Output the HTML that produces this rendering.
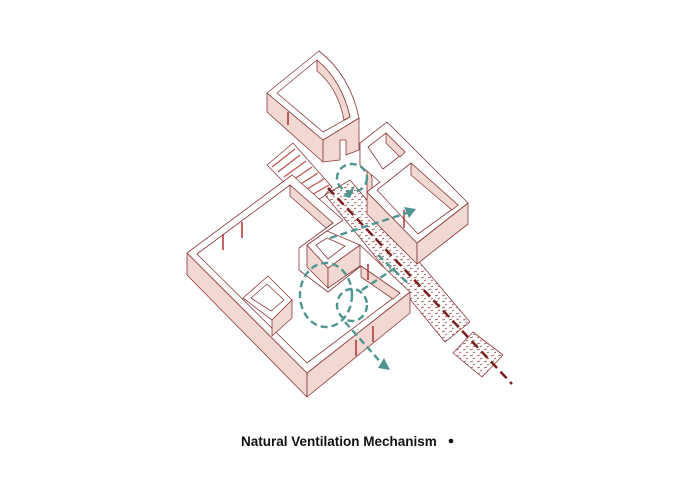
<!DOCTYPE html>
<html><head><meta charset="utf-8"><style>
html,body{margin:0;padding:0;background:#fff;}
svg{display:block}
</style></head><body>
<svg width="700" height="500" viewBox="0 0 700 500" xmlns="http://www.w3.org/2000/svg">
<defs>
<pattern id="hat" width="7" height="6" patternUnits="userSpaceOnUse">
<path d="M1 2 l3 -1 M4 5 l2 -1" stroke="#9a4a4a" stroke-width="0.7"/>
</pattern>
</defs>
<g stroke="#8b3a3a" stroke-width="0.8" stroke-linejoin="round">
<!-- stairs -->
<polygon points="267,165 293,143 332,187 323,197 306,205" fill="#fff"/>
<g stroke="#c0504a" stroke-width="1.2">
<line x1="272" y1="167" x2="295" y2="149"/><line x1="278" y1="172" x2="300" y2="155"/>
<line x1="284" y1="177" x2="306" y2="161"/><line x1="290" y1="182" x2="312" y2="167"/>
<line x1="296" y1="187" x2="318" y2="173"/><line x1="302" y1="192" x2="324" y2="179"/>
<line x1="308" y1="197" x2="329" y2="185"/>
</g>
<!-- path strip -->
<polygon points="325,195 350,180 470,322 445,342" fill="url(#hat)"/>
<polygon points="453,353 473,332 503,355 482,377" fill="url(#hat)"/>

<!-- top room -->
<polygon points="267,93 323,140 323,162 267,112" fill="#f2d8d3"/>
<polygon points="323,140 359,118 359,150 346,155 346,140 340,140 340,160 323,162" fill="#f2d8d3"/>
<path d="M267,93 L319,51 Q350,75 359,118 L323,140 Z" fill="#fff"/>
<path d="M277,93 L317,60 Q342,81 350,117 L323,132 Z" fill="#fff"/>
<path d="M317,60 L317,71 Q338,88 344,120 L350,117 Q342,81 317,60 Z" fill="#f2d8d3"/>
<line x1="288" y1="112" x2="288" y2="125" stroke="#b03030" stroke-width="1.5"/>

<!-- right building -->
<polygon points="367,192 417,243 417,264 367,214" fill="#f2d8d3"/>
<polygon points="417,243 468,203 468,224 417,264" fill="#f2d8d3"/>
<polygon points="360,143 360,165 367,170 367,192 372,197 372,178" fill="#f2d8d3"/>
<polygon points="360,143 387,122 468,203 417,243 367,192 380,182 360,165" fill="#fff"/>
<polygon points="368,147 386,133 405,152 383,169" fill="#fff"/>
<polygon points="386,133 386,143 400,157 405,152" fill="#f2d8d3"/>
<polygon points="377,190 411,163 458,205 418,234" fill="#fff"/>
<polygon points="411,163 411,175 452,210 458,205" fill="#f2d8d3"/>
<line x1="404" y1="210" x2="404" y2="228" stroke="#b03030" stroke-width="1.5"/>

<!-- big room -->
<polygon points="187,253 307,373 307,397 187,275" fill="#f2d8d3"/>
<polygon points="307,373 410,292 410,313 307,397" fill="#f2d8d3"/>
<polygon points="187,253 292,175 343,220 307,245 330,268 360,245 410,292 307,373" fill="#fff"/>
<polygon points="197,254 290,185 333,223 299,248 299,270 328,292 361,266 400,293 307,363" fill="#fff"/>
<polygon points="290,185 290,196 326,228 333,223" fill="#f2d8d3"/>
<polygon points="361,266 361,277 393,299 400,293" fill="#f2d8d3"/>
<!-- inner small box -->
<polygon points="307,245 307,267 328,288 328,268" fill="#f2d8d3"/>
<polygon points="328,268 360,245 360,266 328,288" fill="#f2d8d3"/>
<polygon points="307,245 327,231 360,245 328,268" fill="#fff"/>
<polygon points="316,245 327,238 345,246 328,259" fill="#fff"/>
<!-- closet -->
<polygon points="243,298 268,276 292,300 272,320" fill="#fff"/>
<polygon points="251,298 267,284 284,300 271,311" fill="#fff"/>
<polygon points="292,300 292,318 272,336 272,320" fill="#f2d8d3"/>
<!-- doors -->
<g stroke="#b03030" stroke-width="1.5">
<line x1="242" y1="222" x2="242" y2="238"/><line x1="223" y1="234" x2="223" y2="250"/>
<line x1="356" y1="340" x2="356" y2="356"/><line x1="373" y1="326" x2="373" y2="342"/>
<line x1="368" y1="264" x2="368" y2="280"/>
</g>
</g>

<!-- red dashed axis -->
<line x1="328" y1="188" x2="512" y2="384" stroke="#7a1f1f" stroke-width="2.5" stroke-dasharray="9,5"/>

<!-- teal flows -->
<g stroke="#4f9690" stroke-width="2.4" fill="none" stroke-dasharray="7,4">
<ellipse cx="352" cy="178" rx="15" ry="14"/>
<path d="M330,238 L410,212"/>
<ellipse cx="326" cy="295" rx="26" ry="32"/>
<ellipse cx="352" cy="305" rx="15" ry="16"/>
<path d="M362,290 L395,268"/>
<path d="M345,322 L384,366"/>
<path d="M378,255 L410,285"/>
</g>
<g fill="#4f9690">
<polygon points="343,196 355,186 350,198"/>
<polygon points="416,209 404,207 409,218"/>
<polygon points="390,370 378,368 384,358"/>
</g>

<text x="241" y="446" font-family="Liberation Sans, sans-serif" font-weight="bold" font-size="13.5" fill="#111">Natural Ventilation Mechanism</text>
<circle cx="451" cy="441" r="2.3" fill="#111"/>
</svg>
</body></html>
